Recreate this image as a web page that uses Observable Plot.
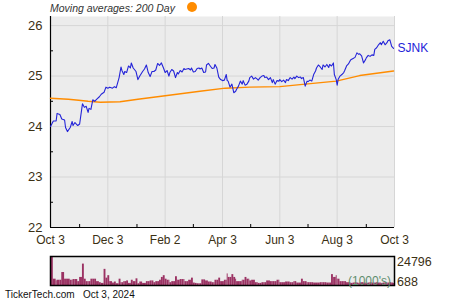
<!DOCTYPE html>
<html><head><meta charset="utf-8">
<script src="https://cdn.jsdelivr.net/npm/d3@7"></script>
<script src="https://cdn.jsdelivr.net/npm/@observablehq/plot@0.6"></script>
<style>
body{margin:0;background:#fff;font-family:"Liberation Sans",Arial,sans-serif;}
#wrap{position:relative;width:450px;height:300px;overflow:hidden;background:#fff;}
#wrap svg{position:absolute;left:0;}
.lbl{position:absolute;white-space:nowrap;line-height:1;}
#dot{position:absolute;left:187px;top:2px;width:10px;height:10px;border-radius:50%;background:#ff8c00;}
</style></head><body><div id="wrap"></div>
<script>
const titleText = "Moving averages: 200 Day";
const seriesName = "SJNK";
const footerText = ["TickerTech.com", "Oct 3, 2024"];
const volUnits = "(1000's)";
const volAxisLabels = [24796, 688];

const priceDates = ["2023-10-03","2023-10-06","2023-10-09","2023-10-10","2023-10-13","2023-10-15","2023-10-18","2023-10-19","2023-10-21","2023-10-24","2023-10-26","2023-10-27","2023-10-29","2023-11-01","2023-11-03","2023-11-06","2023-11-08","2023-11-10","2023-11-12","2023-11-13","2023-11-15","2023-11-17","2023-11-19","2023-11-21","2023-11-24","2023-11-26","2023-11-29","2023-12-01","2023-12-03","2023-12-05","2023-12-08","2023-12-10","2023-12-12","2023-12-15","2023-12-17","2023-12-18","2023-12-20","2023-12-21","2023-12-23","2023-12-25","2023-12-27","2023-12-28","2023-12-30","2024-01-02","2024-01-04","2024-01-06","2024-01-09","2024-01-11","2024-01-13","2024-01-15","2024-01-17","2024-01-19","2024-01-21","2024-01-23","2024-01-25","2024-01-27","2024-01-29","2024-01-31","2024-02-02","2024-02-04","2024-02-06","2024-02-07","2024-02-09","2024-02-11","2024-02-13","2024-02-15","2024-02-16","2024-02-18","2024-02-20","2024-02-22","2024-02-23","2024-02-25","2024-02-27","2024-02-29","2024-03-01","2024-03-03","2024-03-05","2024-03-07","2024-03-09","2024-03-10","2024-03-12","2024-03-14","2024-03-16","2024-03-17","2024-03-19","2024-03-21","2024-03-23","2024-03-25","2024-03-26","2024-03-28","2024-03-30","2024-04-01","2024-04-03","2024-04-05","2024-04-07","2024-04-08","2024-04-09","2024-04-11","2024-04-13","2024-04-15","2024-04-17","2024-04-18","2024-04-20","2024-04-22","2024-04-24","2024-04-25","2024-04-27","2024-04-29","2024-05-01","2024-05-02","2024-05-04","2024-05-06","2024-05-08","2024-05-10","2024-05-11","2024-05-13","2024-05-15","2024-05-17","2024-05-18","2024-05-20","2024-05-22","2024-05-24","2024-05-26","2024-05-27","2024-05-29","2024-05-31","2024-06-02","2024-06-03","2024-06-05","2024-06-07","2024-06-09","2024-06-10","2024-06-12","2024-06-14","2024-06-16","2024-06-18","2024-06-19","2024-06-21","2024-06-23","2024-06-25","2024-06-26","2024-06-28","2024-06-30","2024-07-02","2024-07-03","2024-07-05","2024-07-07","2024-07-09","2024-07-11","2024-07-12","2024-07-14","2024-07-16","2024-07-18","2024-07-19","2024-07-21","2024-07-23","2024-07-25","2024-07-26","2024-07-28","2024-07-30","2024-07-31","2024-08-02","2024-08-03","2024-08-04","2024-08-06","2024-08-08","2024-08-10","2024-08-11","2024-08-13","2024-08-15","2024-08-17","2024-08-18","2024-08-20","2024-08-22","2024-08-24","2024-08-26","2024-08-27","2024-08-29","2024-08-31","2024-09-02","2024-09-03","2024-09-05","2024-09-07","2024-09-09","2024-09-11","2024-09-12","2024-09-14","2024-09-16","2024-09-18","2024-09-19","2024-09-21","2024-09-23","2024-09-25","2024-09-26","2024-09-28","2024-09-30","2024-10-02"];

const priceValues = [
24.00,24.11,24.11,24.26,24.24,24.15,24.13,23.98,23.90,23.98,
24.10,24.02,24.08,24.02,24.05,24.45,24.38,24.40,24.28,24.36,
24.34,24.53,24.50,24.54,24.59,24.64,24.68,24.78,24.76,24.78,
24.76,24.79,24.77,24.97,25.18,25.11,25.03,25.09,25.07,25.20,
25.16,25.26,25.16,25.09,24.93,25.00,25.09,25.14,25.22,25.07,
24.99,25.09,25.09,25.12,25.25,25.21,25.26,25.17,25.07,25.11,
25.00,25.07,25.13,25.10,24.97,25.07,25.04,25.11,25.08,25.15,
25.13,25.14,25.15,25.12,25.16,25.08,25.09,25.15,25.16,25.14,
25.16,25.07,25.08,25.22,25.25,25.20,25.15,25.16,25.23,25.16,
24.98,24.93,24.91,24.92,25.03,24.91,24.90,24.78,24.84,24.67,
24.70,24.74,24.80,24.90,24.84,24.91,24.82,24.84,24.90,24.97,
25.00,24.94,24.97,24.94,24.92,24.97,25.00,25.01,24.97,24.98,
24.93,24.97,24.87,24.93,24.84,24.91,24.90,24.93,24.89,24.92,
24.87,24.93,24.91,24.97,24.94,24.98,24.95,25.00,24.97,24.98,
24.95,24.97,24.80,24.90,24.89,24.92,24.90,25.03,25.10,25.16,
25.22,25.18,25.13,25.22,25.18,25.23,25.17,25.23,25.20,25.26,
25.03,24.93,24.82,24.93,25.00,25.03,25.07,25.11,25.20,25.24,
25.31,25.33,25.35,25.37,25.46,25.43,25.44,25.40,25.26,25.32,
25.36,25.41,25.39,25.42,25.41,25.53,25.56,25.62,25.66,25.62,
25.69,25.62,25.66,25.70,25.72,25.59,25.55];

const volumeValues = [
24796,5400,3900,4500,4500,11100,5400,5400,5400,4500,
4500,5100,5100,3300,6900,18300,5400,3300,3300,3300,
5400,5400,5400,3300,2400,1800,13800,6300,8400,3300,
2100,3000,1500,5400,2400,2400,3300,3300,3900,1800,
1800,4500,3300,5700,1500,3000,1800,1800,3300,3300,
3900,3900,2400,3300,3300,4500,6900,8400,5400,4500,
4500,2400,3300,3300,7500,4500,4500,5100,5100,5100,
3300,3300,4500,4500,6300,2100,1800,1500,1500,1500,
4800,4800,3900,3900,3000,3000,2400,2400,4500,4500,
6300,3300,3300,4500,4500,9900,6900,6900,9300,6900,
5400,3300,3300,3300,4500,4500,6900,5400,5400,3900,
4500,4500,2400,2400,1800,1800,2400,2400,2400,3900,
3900,3300,3300,3300,3300,4500,4500,2400,2400,2400,
3000,3000,3000,2400,2400,3300,3300,2100,2100,2100,
5400,3300,3300,2400,2400,2400,2400,2100,2100,2100,
2100,2400,2400,2400,2400,2100,2100,2100,9300,6900,
6900,8400,5400,5400,3300,3300,3300,3300,2400,2400,
2100,1800,2100,2400,2100,1800,2100,2400,2100,2100,
1800,2100,2400,2100,1800,2100,2400,2100,2100,1800,
2100,2400,2100,2100,2400,2100,1800];

const maDates = ["2023-10-03","2023-10-22","2023-11-02","2023-11-12","2023-11-25","2023-12-16","2024-01-04","2024-02-02","2024-03-10","2024-04-06","2024-05-02","2024-06-03","2024-06-30","2024-08-02","2024-08-27","2024-10-02"];
const maValues = [24.56,24.54,24.52,24.50,24.48,24.49,24.54,24.61,24.70,24.76,24.78,24.79,24.84,24.90,25.01,25.10];

const xDomain = ["2023-10-03","2024-10-03"];
const xTickDates = ["2023-10-03","2023-12-03","2024-02-02","2024-04-03","2024-06-03","2024-08-03","2024-10-03"];
const xTickLabels = ["Oct 3","Dec 3","Feb 2","Apr 3","Jun 3","Aug 3","Oct 3"];
const xMinorDates = ["2023-11-03","2024-01-03","2024-03-03","2024-05-03","2024-07-03","2024-09-03"];
const yDomain = [22, 26.18];
const yTicks = [22,23,24,25,26];
const yTickLabels = ["22","23","24","25","26"];
const yMinorTicks = [22.5,23.5,24.5,25.5];

const parse = s => new Date(s + "T00:00:00Z");
const n = Math.min(priceDates.length, priceValues.length);
const price = d3.range(n).map(i => ({date: parse(priceDates[i]), v: priceValues[i]}));
const ma = maDates.map((d, i) => ({date: parse(d), v: maValues[i]}));
const xd = xDomain.map(parse);
const vol = d3.range(Math.min(n, volumeValues.length)).map(i => ({
  x1: parse(priceDates[i]),
  x2: i + 1 < n ? parse(priceDates[i + 1]) : xd[1],
  v: volumeValues[i]
}));
const labelMap = new Map(xTickDates.map((d, i) => [+parse(d), xTickLabels[i]]));
const yLabelMap = new Map(yTicks.map((d, i) => [d, yTickLabels[i]]));

const W = 450, ML = 50, MR = 56, MT = 16, H = 250, MB = 23;
const innerW = W - ML - MR, innerH = H - MT - MB;
const textColor = "#3b3014";
const font = "Liberation Sans, Arial, sans-serif";

const main = Plot.plot({
  width: W, height: H,
  marginLeft: ML, marginRight: MR, marginTop: MT, marginBottom: MB,
  x: {type: "utc", domain: xd, label: null},
  y: {domain: yDomain, label: null},
  style: {background: "transparent", color: textColor, fontFamily: font, fontSize: "12px", overflow: "visible"},
  marks: [
    Plot.frame({fill: "#ececec", stroke: null}),
    Plot.gridY(yTicks, {stroke: "#d6d6d6", strokeOpacity: 1, strokeWidth: 1}),
    Plot.gridX(xTickDates.map(parse), {stroke: "#d6d6d6", strokeOpacity: 1, strokeWidth: 1}),
    Plot.tickY(yMinorTicks, {y: d => d, stroke: "#000", insetRight: innerW - 3}),
    Plot.tickX(xMinorDates.map(parse), {x: d => d, stroke: "#000", insetTop: innerH - 3}),
    Plot.ruleX([xd[0]], {stroke: "#000", strokeWidth: 1.2}),
    Plot.ruleY([yDomain[0]], {stroke: "#000", strokeWidth: 1.2}),
    Plot.axisY(yTicks, {tickSize: 0, tickPadding: 8, fontSize: 13, label: null, fill: textColor, tickFormat: d => yLabelMap.get(d)}),
    Plot.axisX(xTickDates.map(parse), {tickSize: 0, tickPadding: 8, fontSize: 12, label: null, fill: textColor, tickFormat: d => labelMap.get(+d)}),
    Plot.line(ma, {x: "date", y: "v", stroke: "#ff8c00", strokeWidth: 1.4}),
    Plot.line(price, {x: "date", y: "v", stroke: "#2424d8", strokeWidth: 1.1}),
    Plot.text([price[price.length - 1]], {x: "date", y: "v", text: () => seriesName, textAnchor: "start", dx: 4, fill: "#2424d8", fontSize: 12})
  ]
});

const volPlot = Plot.plot({
  width: W, height: 31,
  marginLeft: ML, marginRight: MR, marginTop: 1, marginBottom: 1,
  x: {type: "utc", domain: xd, axis: null},
  y: {domain: [0, volAxisLabels[0]], axis: null},
  style: {background: "transparent", overflow: "visible"},
  marks: [
    Plot.frame({fill: "#ececec", stroke: null}),
    Plot.rectY(vol, {x1: "x1", x2: "x2", y: "v", fill: "#9b3263", inset: 0}),
    Plot.frame({stroke: "#000", strokeWidth: 1.5})
  ]
});

const wrap = document.getElementById("wrap");
main.style.top = "0px";
volPlot.style.top = "255px";
wrap.appendChild(main);
wrap.appendChild(volPlot);

function addLabel(text, css) {
  const d = document.createElement("div");
  d.className = "lbl";
  d.textContent = text;
  Object.assign(d.style, css);
  wrap.appendChild(d);
  return d;
}
addLabel(titleText, {left: "50px", top: "3px", fontSize: "10.5px", fontStyle: "italic", color: "#333"});
const dot = document.createElement("div"); dot.id = "dot"; wrap.appendChild(dot);
addLabel(volUnits, {left: "348px", top: "275px", fontSize: "12px", color: "#5e8c6c"});
addLabel(String(volAxisLabels[0]), {left: "397px", top: "256px", fontSize: "12.5px", color: textColor});
addLabel(String(volAxisLabels[1]), {left: "397px", top: "276px", fontSize: "12.5px", color: textColor});
addLabel(footerText[0], {left: "5px", top: "290px", fontSize: "10px", color: "#111"});
addLabel(footerText[1], {left: "83px", top: "290px", fontSize: "10px", color: "#111"});
</script></body></html>
